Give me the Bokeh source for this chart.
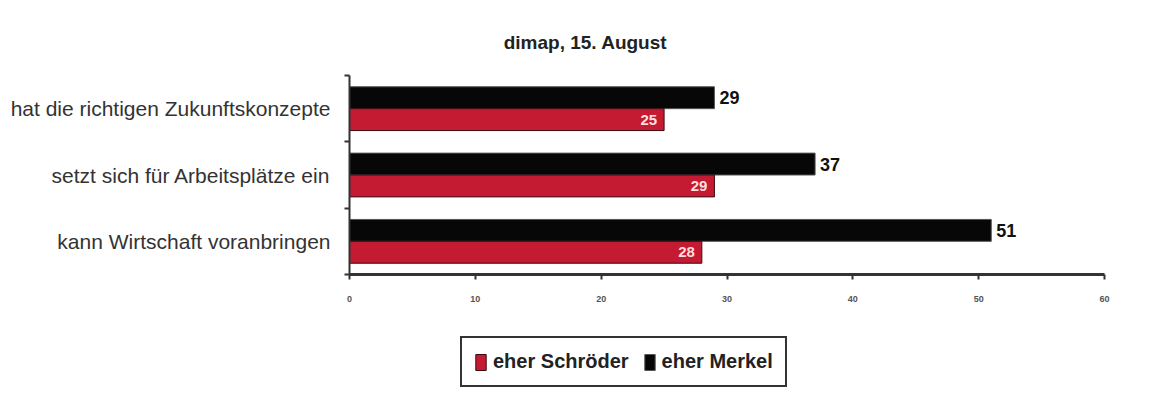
from bokeh.plotting import figure
from bokeh.models import (Range1d, LinearAxis, FixedTicker, Label,
                          Legend, LegendItem, ColumnDataSource)
from bokeh.transform import dodge
from bokeh.core.properties import value
from bokeh.embed import file_html
from bokeh.resources import INLINE

# ---- data ----
title_text = "dimap, 15. August"
categories = ["hat die richtigen Zukunftskonzepte",
              "setzt sich für Arbeitsplätze ein",
              "kann Wirtschaft voranbringen"]
merkel = [29, 37, 51]
schroeder = [25, 29, 28]
series_names = ["eher Schröder", "eher Merkel"]
x_ticks = [0, 10, 20, 30, 40, 50, 60]
x_max = 60

FONT = "Liberation Sans"
RED = "#c41a32"
BLACK = "#070707"

# ---- layout (pixels) ----
W, H = 1150, 388
BAR_TOP_PX, BAR_BOTTOM_PX = 75, 274   # rows of the category block
AX_LEFT_PX, AX_RIGHT_PX = 349, 1104   # columns of value 0 and value x_max

n = len(categories)
unit_y = (BAR_BOTTOM_PX - BAR_TOP_PX) / n
y_start = -(H - BAR_BOTTOM_PX) / unit_y
y_end = n + BAR_TOP_PX / unit_y
unit_x = (AX_RIGHT_PX - AX_LEFT_PX) / x_max
x_start = -AX_LEFT_PX / unit_x
x_end = x_max + (W - AX_RIGHT_PX) / unit_x

# category slot centres (first category on top)
ypos = [n - i - 0.5 for i in range(n)]
src = ColumnDataSource(dict(
    y=ypos,
    merkel=merkel,
    schroeder=schroeder,
    merkel_lbl=[str(v) for v in merkel],
    schroeder_lbl=[str(v) for v in schroeder],
))

p = figure(width=W, height=H, output_backend="svg", toolbar_location=None, title=None,
           y_range=Range1d(y_start, y_end), x_range=Range1d(x_start, x_end),
           x_axis_location=None, y_axis_location=None,
           min_border_left=0, min_border_right=0, min_border_top=0,
           min_border_bottom=0)
p.outline_line_color = None
p.background_fill_color = "white"
p.border_fill_color = "white"
p.xgrid.visible = False
p.ygrid.visible = False

r_m = p.hbar(y=dodge("y", 0.165), right="merkel", left=0, height=0.33,
             source=src, fill_color=BLACK, line_color="#555555", line_width=1)
r_s = p.hbar(y=dodge("y", -0.165), right="schroeder", left=0, height=0.33,
             source=src, fill_color=RED, line_color="#3a0c12", line_width=1)

p.text(x="merkel", y=dodge("y", 0.165), text="merkel_lbl", source=src,
       x_offset=5, text_align="left", text_baseline="middle",
       text_font=value(FONT), text_font_size="18px", text_font_style="bold",
       text_color="#111111")
p.text(x="schroeder", y=dodge("y", -0.165), text="schroeder_lbl", source=src,
       x_offset=-7, text_align="right", text_baseline="middle",
       text_font=value(FONT), text_font_size="15px", text_font_style="bold",
       text_color="#ffdede")

# title
p.add_layout(Label(x=585, y=H - 42, x_units="screen", y_units="screen", text=title_text,
                   text_font=FONT, text_font_size="19px", text_font_style="bold",
                   text_align="center", text_baseline="middle", text_color="#222222"))

# x axis fixed at the bottom of the category block
xax = LinearAxis(ticker=FixedTicker(ticks=x_ticks), fixed_location=0, bounds=(0, x_max))
xax.axis_line_width = 3
xax.axis_line_color = "#333333"
xax.major_tick_out = 5
xax.major_tick_in = 0
xax.major_tick_line_color = "#333333"
xax.major_tick_line_width = 2
xax.minor_tick_line_color = None
xax.major_label_text_font = FONT
xax.major_label_text_font_size = "9px"
xax.major_label_text_font_style = "bold"
xax.major_label_text_color = "#555555"
xax.major_label_standoff = 16
p.add_layout(xax, "below")

# y axis: names at slot centres (major), tick marks at slot boundaries (minor)
yax = LinearAxis(ticker=FixedTicker(ticks=ypos, minor_ticks=list(range(n + 1))),
                 fixed_location=0, bounds=(0, n),
                 major_label_overrides={y: c for y, c in zip(ypos, categories)})
yax.axis_line_color = "#333333"
yax.axis_line_width = 2
yax.major_tick_line_color = None
yax.major_tick_out = 0
yax.major_tick_in = 0
yax.minor_tick_line_color = "#333333"
yax.minor_tick_line_width = 2
yax.minor_tick_out = 5
yax.minor_tick_in = 0
yax.major_label_standoff = 14
yax.major_label_text_font = FONT
yax.major_label_text_font_size = "21px"
yax.major_label_text_color = "#333333"
p.add_layout(yax, "left")

legend = Legend(items=[LegendItem(label=series_names[0], renderers=[r_s]),
                       LegendItem(label=series_names[1], renderers=[r_m])],
                orientation="horizontal", location=(460, 1),
                glyph_width=13, glyph_height=20, label_standoff=6, spacing=14,
                padding=12, margin=0,
                label_text_font=FONT, label_text_font_size="20px",
                label_text_font_style="bold", label_text_color="#222222",
                border_line_color="#333333", border_line_width=2,
                border_line_alpha=1.0,
                background_fill_color="white")
p.add_layout(legend, "center")

open("out.html", "w").write(file_html(p, INLINE))
